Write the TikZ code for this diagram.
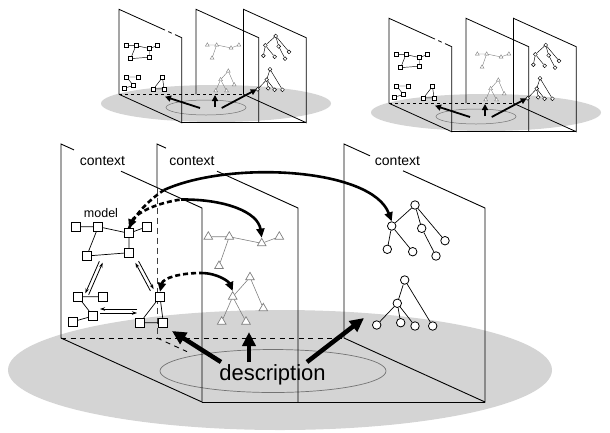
\documentclass[tikz,border=0pt]{standalone}
\usepackage{fontspec}
\setmainfont{Liberation Sans}
\usetikzlibrary{arrows.meta,shapes.geometric,calc}

\definecolor{groundgray}{gray}{0.83}
\definecolor{trigray}{gray}{0.5}
\definecolor{ringgray}{gray}{0.45}

\tikzset{
  x=1pt, y=1pt,
  edge/.style={line width=0.9pt, black},
  hidden/.style={line width=0.9pt, black, dash pattern=on 5pt off 4.5pt},
  sq/.style={draw, fill=white, rectangle, minimum size=9pt, inner sep=0pt, line width=0.8pt},
  tri/.style={draw=trigray, fill=white, regular polygon, regular polygon sides=3,
              minimum size=10pt, inner sep=0pt, line width=0.7pt},
  circ/.style={draw, fill=white, circle, minimum size=8.5pt, inner sep=0pt, line width=0.8pt},
  gl/.style={line width=0.7pt},
  tl/.style={line width=0.6pt, trigray},
  descring/.style={draw=ringgray, line width=0.7pt},
  bigarrow/.style={line width=4.5pt, -{Triangle[length=14pt,width=13pt]}},
  smallarrow/.style={line width=1.8pt, -{Triangle[length=6pt,width=6pt]}},
  arcarrow/.style={line width=2.6pt, -{Triangle[length=9pt,width=8pt]}},
  arcdash/.style={line width=2.6pt, dash pattern=on 5pt off 3pt, {Triangle[length=9pt,width=8pt]}-},
  dashline/.style={line width=2.6pt, dash pattern=on 5pt off 3pt},
  thinarrow/.style={line width=0.8pt, -{Stealth[length=5pt,width=3.5pt]}},
  lbl/.style={font=\fontsize{14}{16}\selectfont, inner sep=0pt, anchor=base},
  small/.style={sq/.append style={line width=0.45pt}, circ/.append style={line width=0.45pt},
                tri/.append style={line width=0.4pt}, gl/.append style={line width=0.45pt},
                tl/.append style={line width=0.4pt}},
}

% square graphs
\newcommand\sqgraphA[1]{%
  \node[sq] (#1a) at (0,0) {};
  \node[sq] (#1b) at (22.6,0) {};
  \node[sq] (#1c) at (53.3,-6.6) {};
  \node[sq] (#1d) at (71,0) {};
  \node[sq] (#1e) at (11,-29.3) {};
  \node[sq] (#1f) at (53.3,-26) {};
  \draw[gl] (#1a)--(#1b) (#1b)--(#1e) (#1b)--(#1c) (#1c)--(#1d) (#1c)--(#1f) (#1e)--(#1f);}
\newcommand\sqgraphB[1]{%
  \node[sq] (#1a) at (0,0) {};
  \node[sq] (#1b) at (25,0) {};
  \node[sq] (#1c) at (15,-19.3) {};
  \node[sq] (#1d) at (-5.3,-25) {};
  \draw[gl] (#1a)--(#1b) (#1a)--(#1c) (#1c)--(#1d);}
\newcommand\sqgraphC[1]{%
  \node[sq] (#1a) at (0,0) {};
  \node[sq] (#1b) at (-20,-26) {};
  \node[sq] (#1c) at (3.3,-26) {};
  \draw[gl] (#1a)--(#1b) (#1a)--(#1c) (#1b)--(#1c);}
% triangle trees
\newcommand\trigraphA[1]{%
  \node[tri] (#1a) at (0,0) {};
  \node[tri] (#1b) at (21,0) {};
  \node[tri] (#1c) at (53.4,-6.6) {};
  \node[tri] (#1d) at (71,0) {};
  \node[tri] (#1e) at (10.7,-29.3) {};
  \draw[tl] (#1a)--(#1b) (#1b)--(#1c) (#1c)--(#1d) (#1b)--(#1e);}
\newcommand\trigraphB[1]{%
  \node[tri] (#1a) at (0,0) {};
  \node[tri] (#1b) at (-17.3,-19.4) {};
  \node[tri] (#1c) at (13.3,-31) {};
  \node[tri] (#1d) at (-28.3,-44.4) {};
  \node[tri] (#1e) at (-4,-44.4) {};
  \draw[tl] (#1a)--(#1b) (#1a)--(#1c) (#1b)--(#1d) (#1b)--(#1e);}
% circle trees
\newcommand\circgraphA[1]{%
  \node[circ] (#1r) at (0,0) {};
  \node[circ] (#1a) at (-23.3,-21) {};
  \node[circ] (#1b) at (6.7,-23.3) {};
  \node[circ] (#1c) at (30,-35.7) {};
  \node[circ] (#1d) at (-27.7,-44.3) {};
  \node[circ] (#1e) at (-2.3,-46.7) {};
  \node[circ] (#1f) at (21,-51) {};
  \draw[gl] (#1r)--(#1a) (#1r)--(#1b) (#1r)--(#1c) (#1a)--(#1d) (#1a)--(#1e) (#1b)--(#1f);}
\newcommand\circgraphB[1]{%
  \node[circ] (#1r) at (0,0) {};
  \node[circ] (#1a) at (-7.4,-23.3) {};
  \node[circ] (#1b) at (-28,-45) {};
  \node[circ] (#1c) at (-4,-42.7) {};
  \node[circ] (#1d) at (10.3,-46) {};
  \node[circ] (#1e) at (28,-46) {};
  \draw[gl] (#1r)--(#1a) (#1r)--(#1e) (#1a)--(#1b) (#1a)--(#1c) (#1a)--(#1d);}

\begin{document}
\begin{tikzpicture}
\useasboundingbox (0,0) rectangle (610,-432);

% ---------- two small overview sketches ----------
\foreach \id/\dx/\dy in {L/0/0,R/270/-9}{
  \begin{scope}[shift={(\dx,\dy)}]
    \fill[groundgray] (216,-103.5) ellipse [x radius=115, y radius=18.5];
    \draw[descring, line width=0.5pt] (206,-107.5) ellipse [x radius=40, y radius=7.5];
    % planes
    \draw[edge, line width=0.8pt] (119,-94.3) -- (119,-9.3) -- (165,-30.1);
    \draw[edge, line width=0.8pt] (168.3,-31.6) -- (171.7,-33.2);
    \draw[edge, line width=0.8pt] (175,-34.6) -- (181.7,-37.7) -- (181.7,-122.7) -- (119,-94.3);
    \draw[edge, line width=0.8pt] (196,-94.3) -- (196,-9.3) -- (258.7,-37.7) -- (258.7,-122.7);
    \draw[edge, line width=0.8pt] (243.5,-94.3) -- (243.5,-9.3) -- (306.2,-37.7) -- (306.2,-122.7) -- (243.5,-94.3);
    \draw[edge, line width=0.8pt] (181.7,-122.7) -- (306.2,-122.7);
    \draw[hidden, line width=0.8pt, dash pattern=on 3pt off 3pt] (119,-94.3) -- (243.5,-94.3);
    % graphs
    \begin{scope}[shift={(125.8,-45.6)}, scale=0.445, transform shape, small] \sqgraphA{s\id gA} \end{scope}
    \begin{scope}[shift={(126.7,-77)}, scale=0.445, transform shape, small] \sqgraphB{s\id gB} \end{scope}
    \begin{scope}[shift={(162.5,-77.3)}, scale=0.445, transform shape, small] \sqgraphC{s\id gC} \end{scope}
    \begin{scope}[shift={(207.3,-45)}, scale=0.445, transform shape, small] \trigraphA{s\id tA} \end{scope}
    \begin{scope}[shift={(228.3,-71)}, scale=0.445, transform shape, small] \trigraphB{s\id tB} \end{scope}
    \begin{scope}[shift={(275.7,-36)}, scale=0.445, transform shape, small] \circgraphA{s\id cA} \end{scope}
    \begin{scope}[shift={(270,-69.3)}, scale=0.445, transform shape, small] \circgraphB{s\id cB} \end{scope}
    % arrows from the description
    \coordinate (s\id t1) at (200,-108);  \coordinate (s\id h1) at (165,-96.7);
    \coordinate (s\id t2) at (215,-107);  \coordinate (s\id h2) at (215,-95);
    \coordinate (s\id t3) at (221.7,-108); \coordinate (s\id h3) at (256.7,-89.3);
    \draw[smallarrow] (s\id t1) -- (s\id h1);
    \draw[smallarrow] (s\id t2) -- (s\id h2);
    \draw[smallarrow] (s\id t3) -- (s\id h3);
  \end{scope}
}

% ---------- main figure ----------
\fill[groundgray] (280,-370) ellipse [x radius=272, y radius=60];
\draw[descring] (273,-371) ellipse [x radius=113, y radius=21.5];

% context planes
\draw[edge] (61,-338) -- (61,-144) -- (74,-149.9);
\draw[edge] (121,-171.2) -- (202,-208) -- (202,-402);
\draw[edge] (61,-338) -- (202,-402);
\draw[edge] (157,-187.6) -- (157,-144) -- (166,-148.1);
\draw[edge] (217,-171.2) -- (298,-208) -- (298,-402);
\draw[hidden, line width=0.8pt, black!75, dash pattern=on 6pt off 4pt] (157,-187.6) -- (157,-338);
\draw[hidden] (157,-338) -- (187,-351.6);
\draw[edge] (344,-338) -- (344,-144) -- (370,-155.8);
\draw[edge] (403,-170.8) -- (485,-208) -- (485,-402) -- (344,-338);
\draw[edge] (202,-402) -- (485,-402);
\draw[hidden] (61,-338) -- (344,-338);

\node[lbl] (ctx1) at (102.5,-165) {context};
\node[lbl] (ctx2) at (192,-165) {context};
\node[lbl] (ctx3) at (397.5,-165) {context};
\node[lbl, font=\fontsize{12.5}{14}\selectfont] (mdl) at (101,-217.5) {model};

% graphs
\begin{scope}[shift={(75.7,-226.7)}] \sqgraphA{gA} \end{scope}
\begin{scope}[shift={(78,-296.7)}] \sqgraphB{gB} \end{scope}
\begin{scope}[shift={(160,-296.7)}] \sqgraphC{gC} \end{scope}
\begin{scope}[shift={(208.3,-236.7)}] \trigraphA{tA} \end{scope}
\begin{scope}[shift={(250,-277.3)}] \trigraphB{tB} \end{scope}
\begin{scope}[shift={(415,-205)}] \circgraphA{cA} \end{scope}
\begin{scope}[shift={(404.7,-280)}] \circgraphB{cB} \end{scope}

% refinement double arrows inside the model plane
\coordinate (dA1) at (101,-262);  \coordinate (dA2) at (87,-294);
\coordinate (dB1) at (137,-262);  \coordinate (dB2) at (152,-290);
\coordinate (dC1) at (100,-311);  \coordinate (dC2) at (137,-311);
\draw[thinarrow] ([shift={(1.65,-0.72)}]dA2) -- ([shift={(1.65,-0.72)}]dA1);
\draw[thinarrow] ([shift={(-1.65,0.72)}]dA1) -- ([shift={(-1.65,0.72)}]dA2);
\draw[thinarrow] ([shift={(-1.59,-0.85)}]dB2) -- ([shift={(-1.59,-0.85)}]dB1);
\draw[thinarrow] ([shift={(1.59,0.85)}]dB1) -- ([shift={(1.59,0.85)}]dB2);
\draw[thinarrow] ([shift={(0,2)}]dC2) -- ([shift={(0,2)}]dC1);
\draw[thinarrow] ([shift={(0,-2)}]dC1) -- ([shift={(0,-2)}]dC2);

% mappings between contexts
\coordinate (p1) at (164,-190);
\coordinate (p2) at (181,-199.5);
\coordinate (p3) at (201,-273);
\draw[dashline] (gAc.north) .. controls (136,-212) and (152,-198) .. (p1);
\draw[arcdash] (gAc.north) .. controls (134,-216) and (150,-204) .. (p2);
\draw[arcarrow] (p1) .. controls (230,-160) and (372,-168) .. (cAa.north);
\draw[arcarrow] (p2) .. controls (225,-199) and (258,-212) .. (tAc.north);
\draw[arcdash] (gCa.north) .. controls (163,-278) and (180,-273) .. (p3);
\draw[arcarrow] (p3) .. controls (218,-273) and (229,-282) .. (tBb.north);

% description
\node[font=\fontsize{22}{24}\selectfont, inner sep=0pt, anchor=base] (desc) at (272.5,-380) {description};
\coordinate (tl1) at (221,-362); \coordinate (hd1) at (172,-331);
\coordinate (tl2) at (249,-362); \coordinate (hd2) at (249,-332);
\coordinate (tl3) at (307,-362); \coordinate (hd3) at (364,-318);
\draw[bigarrow] (tl1) -- (hd1);
\draw[bigarrow] (tl2) -- (hd2);
\draw[bigarrow] (tl3) -- (hd3);
\end{tikzpicture}
\end{document}
